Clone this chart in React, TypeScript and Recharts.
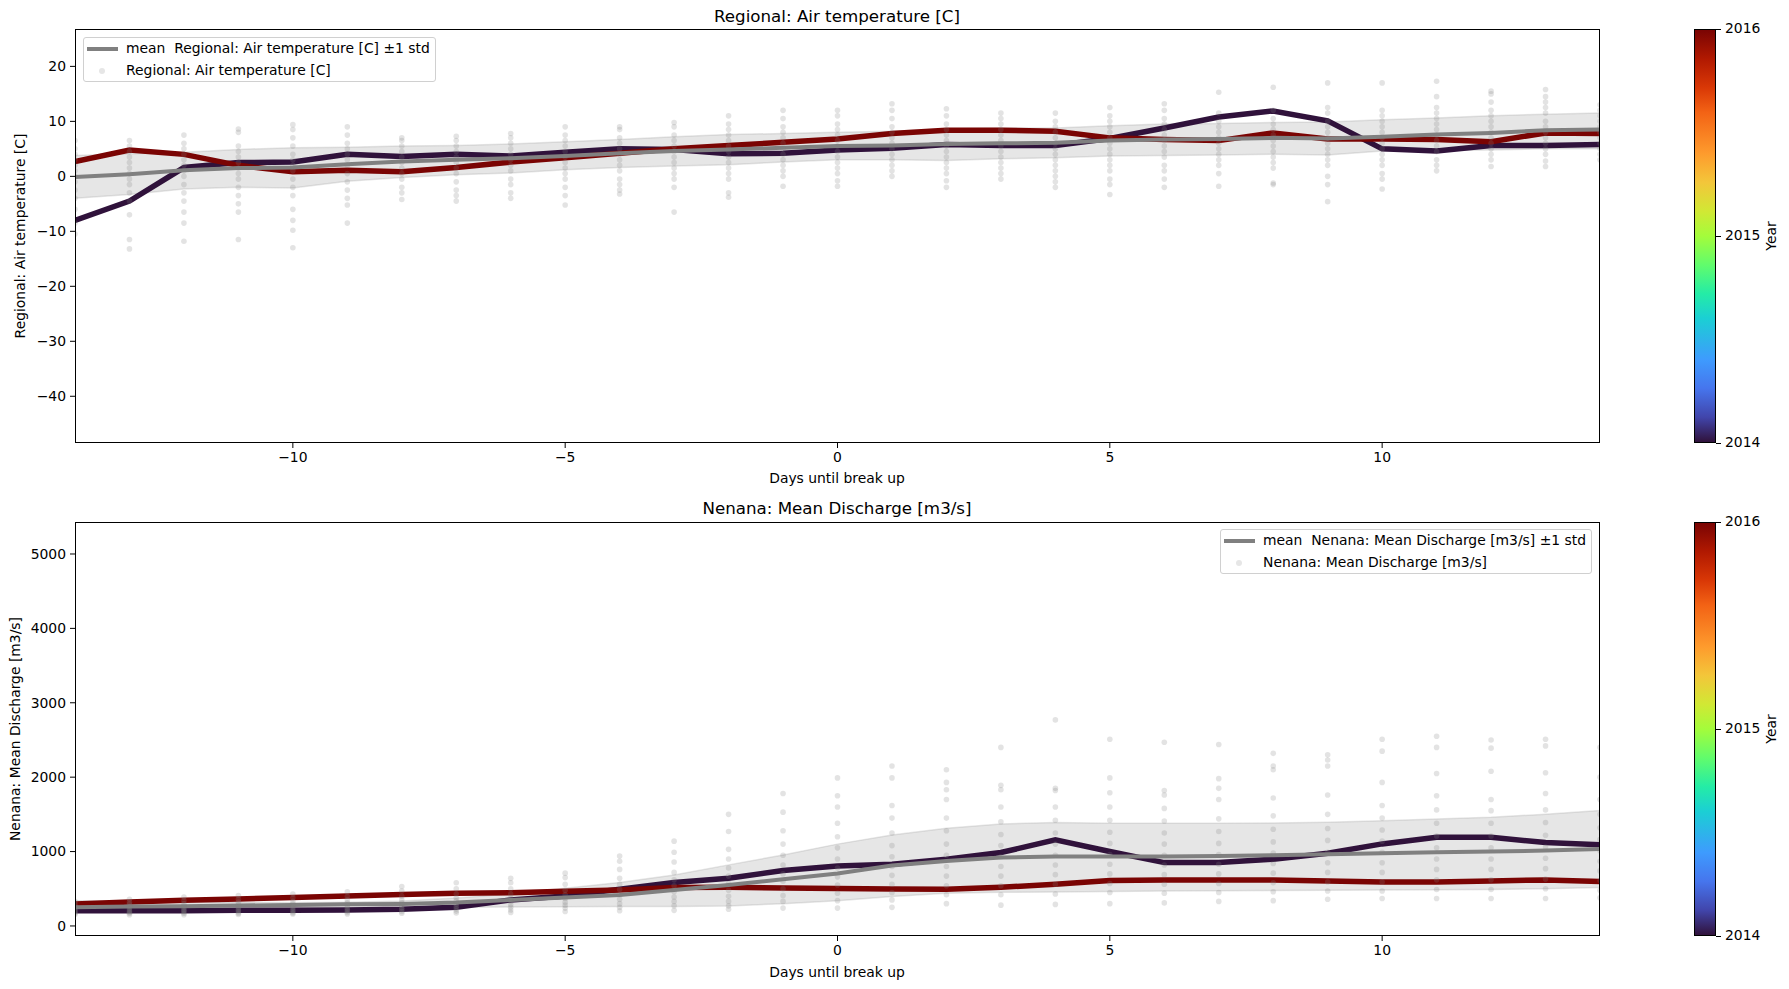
import React from "react";
import { ComposedChart, Line, Area, Scatter, XAxis, YAxis } from "recharts";

// days relative to break up
const days = [-14, -13, -12, -11, -10, -9, -8, -7, -6, -5, -4, -3, -2, -1, 0, 1, 2, 3, 4, 5, 6, 7, 8, 9, 10, 11, 12, 13, 14];

// Regional: Air temperature [C]
const tempMean = [-0.1, 0.4, 1.1, 1.5, 1.6, 2.2, 2.7, 3.0, 3.3, 3.7, 4.2, 4.6, 4.9, 5.2, 5.5, 5.6, 5.9, 6.0, 6.1, 6.5, 6.7, 6.8, 7.0, 6.9, 7.2, 7.6, 7.9, 8.4, 8.5];
const tempLow = [-4.0, -3.3, -2.3, -2.0, -2.1, -0.9, -0.2, 0.3, 0.6, 1.2, 1.6, 1.9, 2.1, 2.6, 3.0, 3.0, 2.9, 3.2, 3.4, 3.7, 3.8, 3.9, 4.0, 3.9, 4.6, 4.7, 4.8, 5.0, 5.0];
const tempHigh = [3.8, 4.1, 4.4, 4.9, 5.2, 5.3, 5.5, 5.6, 5.9, 6.3, 6.7, 7.2, 7.6, 7.8, 8.0, 8.2, 8.6, 8.8, 8.8, 9.2, 9.5, 9.6, 9.8, 9.9, 10.3, 10.6, 11.0, 11.3, 11.5];
const temp2014 = [-8.0, -4.5, 1.6, 2.5, 2.6, 4.0, 3.6, 4.0, 3.7, 4.4, 5.0, 4.9, 4.1, 4.2, 4.8, 5.1, 5.8, 5.6, 5.6, 6.9, 8.8, 10.8, 11.9, 10.1, 5.0, 4.6, 5.6, 5.6, 5.8];
const temp2016 = [2.7, 4.8, 4.0, 2.0, 0.85, 1.1, 0.85, 1.6, 2.6, 3.4, 4.2, 5.0, 5.6, 6.2, 6.8, 7.8, 8.4, 8.4, 8.2, 7.0, 6.7, 6.5, 7.9, 6.8, 6.8, 6.7, 6.3, 7.9, 7.8];
const tempDots = [
  [6.5, 5.0, 4.0, 3.0, 2.0, 1.0, 0.0, -1.0, -2.5, -4.0, -6.0, -8.5, -10.5],
  [6.5, 5.5, 4.5, 3.5, 2.5, 1.5, 0.5, -0.5, -1.5, -3.0, -4.5, -7.0, -11.5, -13.2],
  [7.5, 6.0, 5.0, 4.0, 3.0, 2.0, 1.0, 0.0, -1.5, -3.0, -4.5, -6.5, -8.5, -11.8],
  [8.6, 8.0, 5.5, 4.5, 3.5, 2.5, 1.5, 0.5, -0.5, -2.0, -3.5, -5.0, -6.5, -11.5],
  [9.4, 8.5, 7.0, 5.5, 4.0, 3.0, 2.0, 1.0, -0.5, -2.0, -3.5, -6.0, -8.0, -9.8, -13.0],
  [9.0, 7.5, 6.0, 5.0, 4.0, 3.0, 2.0, 0.5, -1.0, -2.5, -4.0, -5.2, -8.5],
  [7.0, 6.5, 5.5, 4.5, 3.5, 2.5, 1.5, 0.5, -0.5, -2.0, -3.0, -4.2],
  [7.3, 6.5, 5.5, 4.5, 3.5, 2.5, 1.5, 0.5, -1.0, -2.5, -3.5, -4.5],
  [7.8, 7.0, 6.0, 5.0, 4.0, 3.0, 2.0, 1.0, -0.5, -1.5, -3.0, -4.0],
  [9.0, 7.5, 6.5, 5.5, 4.5, 3.5, 2.5, 1.5, 0.5, -0.5, -2.0, -3.5, -5.2],
  [9.0, 8.5, 7.0, 6.0, 5.0, 4.0, 3.0, 2.0, 1.0, -0.5, -1.5, -2.5, -3.2],
  [9.8, 9.0, 7.5, 6.5, 5.5, 4.5, 3.5, 2.5, 1.5, 0.5, -0.5, -2.0, -6.5],
  [11.0, 9.5, 8.5, 7.5, 6.5, 5.5, 4.5, 3.5, 2.5, 1.5, 0.5, -0.5, -3.0, -3.8],
  [12.0, 10.5, 9.0, 8.0, 7.0, 6.0, 5.0, 4.0, 3.0, 2.0, 1.0, 0.0, -1.8],
  [12.0, 11.0, 9.5, 8.5, 7.5, 6.5, 5.5, 4.5, 3.5, 2.5, 1.5, 0.5, -0.8, -1.8],
  [13.2, 12.0, 10.5, 9.0, 8.0, 7.0, 6.0, 5.0, 4.0, 3.0, 2.0, 1.0, 0.0],
  [12.3, 11.0, 9.5, 8.5, 7.5, 6.5, 5.5, 4.5, 3.5, 2.5, 1.5, 0.5, -0.8, -2.0],
  [11.5, 10.5, 9.5, 8.5, 7.5, 6.5, 5.5, 4.5, 3.5, 2.5, 1.5, 0.5, -0.5],
  [11.5, 10.0, 9.0, 8.0, 7.0, 6.0, 5.0, 4.0, 3.0, 2.0, 1.0, 0.0, -1.0, -2.0],
  [12.5, 11.0, 10.0, 9.0, 8.0, 7.0, 6.0, 5.0, 4.0, 3.0, 2.0, 1.0, -0.5, -1.5, -3.3],
  [13.2, 12.0, 10.5, 9.5, 8.5, 7.5, 6.5, 5.5, 4.5, 3.5, 2.0, 1.0, -0.5, -2.0],
  [15.3, 11.5, 10.0, 9.0, 8.0, 7.0, 6.0, 5.0, 4.0, 3.0, 2.0, 0.5, -1.8],
  [16.2, 12.0, 10.5, 9.5, 8.5, 7.5, 6.5, 5.5, 4.5, 3.5, 2.5, 1.5, -1.2, -1.5],
  [17.0, 12.5, 11.5, 10.0, 9.0, 8.0, 7.0, 6.0, 5.0, 4.0, 3.0, 2.0, 0.0, -1.5, -4.6],
  [17.0, 12.0, 11.0, 10.0, 9.0, 8.0, 7.0, 6.0, 5.0, 4.0, 3.0, 2.0, 0.5, -0.5, -2.3],
  [17.3, 14.5, 12.5, 11.5, 10.5, 9.5, 8.5, 7.5, 6.5, 5.5, 4.5, 3.0, 2.0, 1.0],
  [15.5, 15.0, 13.5, 12.0, 11.0, 10.0, 9.0, 8.0, 7.0, 6.0, 5.0, 4.0, 3.0, 1.8],
  [15.8, 14.5, 13.5, 12.5, 11.5, 10.0, 9.0, 8.0, 7.0, 6.0, 5.0, 4.0, 2.8, 1.8],
  [13.0, 12.0, 11.0, 10.0, 9.0, 8.0, 7.0, 6.0, 5.0, 4.0, 3.0],
];

// Nenana: Mean Discharge [m3/s]
const flowMean = [251, 260, 266, 274, 283, 291, 296, 314, 350, 381, 417, 484, 552, 628, 705, 812, 874, 919, 933, 933, 933, 942, 951, 964, 978, 991, 1000, 1013, 1036];
const flowLow = [215, 222, 228, 235, 242, 246, 250, 253, 256, 258, 260, 262, 268, 300, 340, 395, 439, 453, 457, 462, 471, 474, 477, 480, 483, 486, 490, 500, 516];
const flowHigh = [340, 335, 325, 318, 313, 320, 335, 377, 430, 507, 583, 686, 821, 955, 1100, 1224, 1314, 1372, 1390, 1381, 1380, 1382, 1385, 1395, 1413, 1439, 1462, 1502, 1552];
const flow2014 = [206, 206, 206, 211, 211, 215, 224, 251, 350, 404, 493, 583, 641, 744, 805, 830, 897, 987, 1157, 1000, 852, 852, 897, 978, 1103, 1193, 1193, 1121, 1090];
const flow2016 = [296, 323, 345, 363, 381, 404, 422, 439, 448, 466, 484, 516, 520, 511, 503, 498, 493, 520, 561, 610, 619, 619, 619, 605, 592, 592, 605, 619, 596];
const flowDots = [
  [330, 290, 260, 240, 220, 200, 185, 170, 155],
  [360, 320, 290, 260, 240, 220, 200, 185, 170, 150],
  [390, 340, 300, 270, 245, 225, 205, 190, 170, 150],
  [410, 360, 320, 285, 255, 230, 210, 190, 170, 155],
  [430, 380, 330, 295, 265, 240, 215, 195, 175, 160],
  [460, 400, 350, 310, 275, 245, 220, 200, 180, 160],
  [530, 470, 400, 350, 310, 275, 245, 220, 195, 170],
  [580, 500, 430, 380, 335, 295, 260, 230, 200, 175],
  [640, 580, 500, 430, 380, 330, 290, 250, 215, 180],
  [710, 650, 560, 480, 420, 370, 320, 280, 240, 195],
  [940, 870, 760, 640, 560, 490, 420, 360, 300, 250, 205],
  [1140, 990, 860, 720, 620, 540, 460, 390, 330, 270, 210],
  [1500, 1270, 1030, 900, 780, 670, 570, 480, 400, 330, 270, 225],
  [1780, 1530, 1280, 1100, 950, 820, 700, 600, 500, 410, 330, 240],
  [1990, 1750, 1600, 1380, 1200, 1050, 900, 780, 660, 550, 440, 340, 240],
  [2150, 1990, 1620, 1450, 1250, 1080, 930, 800, 680, 560, 450, 350, 250],
  [2100, 1930, 1830, 1700, 1450, 1280, 1100, 950, 800, 670, 540, 420, 300],
  [2400, 1890, 1830, 1600, 1400, 1230, 1080, 930, 800, 670, 540, 420, 280],
  [2770, 1850, 1820, 1600, 1420, 1250, 1100, 950, 820, 690, 560, 430, 290],
  [2510, 1990, 1790, 1600, 1420, 1260, 1110, 960, 830, 700, 570, 450, 300],
  [2470, 1820, 1760, 1580, 1410, 1250, 1100, 950, 820, 690, 560, 440, 310],
  [2440, 1980, 1850, 1700, 1440, 1270, 1110, 960, 830, 700, 570, 450, 330],
  [2320, 2150, 2100, 1720, 1480, 1300, 1130, 980, 840, 710, 580, 460, 340],
  [2300, 2230, 2150, 1760, 1500, 1310, 1150, 990, 850, 720, 590, 470, 360],
  [2510, 2350, 1930, 1620, 1450, 1290, 1140, 990, 850, 720, 590, 470, 370],
  [2550, 2400, 2050, 1750, 1560, 1380, 1210, 1050, 900, 760, 620, 490, 370],
  [2500, 2390, 2080, 1700, 1550, 1380, 1210, 1050, 900, 760, 620, 490, 370],
  [2510, 2420, 2060, 1780, 1560, 1390, 1220, 1060, 910, 770, 630, 500, 370],
  [2400, 2000, 1700, 1500, 1320, 1160, 1010, 870, 740, 610, 480, 380],
];

const xTicks = [-10, -5, 0, 5, 10];
const tempTicks = [-40, -30, -20, -10, 0, 10, 20];
const flowTicks = [0, 1000, 2000, 3000, 4000, 5000];
const yearTicks = ["2016", "2015", "2014"];

const FONT = "'DejaVu Sans', sans-serif";
const C2014 = "#30123b";
const C2016 = "#7a0403";
const GRAY = "#808080";
const TURBO =
  "linear-gradient(to top, #30123b 0%, #4145ab 6%, #4675ed 13%, #3e9bfe 20%, #1bcfd4 30%, #24eca6 36%, #61fc6c 43%, #a4fc3b 50%, #d1e834 56%, #f3c63a 63%, #fe9b2d 70%, #f36315 80%, #d93806 86%, #b11901 93%, #7a0403 100%)";

const fmt = (v: number) => String(v).replace("-", "\u2212");

const rowsOf = (mean: number[], low: number[], high: number[], a: number[], b: number[]) =>
  days.map((d, i) => ({ day: d, mean: mean[i], band: [low[i], high[i]], y2014: a[i], y2016: b[i] }));

const dotsOf = (s: number[][]) => days.flatMap((d, i) => s[i].map((v) => ({ day: d, v })));

const Dot = (p: any) => <circle cx={p.cx} cy={p.cy} r={2.8} fill={GRAY} fillOpacity={0.22} />;

const tickStyle = { fontFamily: FONT, fontSize: 13.9, fill: "#000" };

function Panel(props: {
  top: number;
  height: number;
  mTop: number;
  mBottom: number;
  rows: any[];
  dots: any[];
  domain: [number, number];
  ticks: number[];
}) {
  return (
    <div style={{ position: "absolute", left: 0, top: props.top }}>
      <ComposedChart
        width={1789}
        height={props.height}
        data={props.rows}
        margin={{ top: props.mTop, right: 189, bottom: props.mBottom, left: 15 }}
      >
        <XAxis
          dataKey="day"
          type="number"
          domain={[-14, 14]}
          ticks={xTicks}
          allowDataOverflow
          axisLine={false}
          tickSize={5}
          tickMargin={4}
          tickLine={{ stroke: "#000" }}
          tick={tickStyle}
          tickFormatter={fmt}
          height={30}
        />
        <YAxis
          type="number"
          domain={props.domain}
          ticks={props.ticks}
          allowDataOverflow
          axisLine={false}
          tickSize={5}
          tickMargin={4}
          tickLine={{ stroke: "#000" }}
          tick={tickStyle}
          tickFormatter={fmt}
          width={60}
        />
        <Area
          dataKey="band"
          fill={GRAY}
          fillOpacity={0.2}
          stroke={GRAY}
          strokeOpacity={0.2}
          strokeWidth={1.5}
          isAnimationActive={false}
        />
        <Scatter data={props.dots} dataKey="v" shape={Dot} isAnimationActive={false} />
        <Line dataKey="y2014" stroke={C2014} strokeWidth={5.5} dot={false} isAnimationActive={false} />
        <Line dataKey="y2016" stroke={C2016} strokeWidth={5.5} dot={false} isAnimationActive={false} />
        <Line dataKey="mean" stroke={GRAY} strokeWidth={4} dot={false} isAnimationActive={false} />
      </ComposedChart>
    </div>
  );
}

const abs = (x: number, y: number, extra: any = {}): React.CSSProperties => ({
  position: "absolute",
  left: x,
  top: y,
  whiteSpace: "pre",
  fontFamily: FONT,
  fontSize: 13.9,
  color: "#000",
  ...extra,
});

function Legend(props: { x: number; y: number; w: number; label: string }) {
  return (
    <div
      style={{
        position: "absolute",
        left: props.x,
        top: props.y,
        width: props.w,
        height: 45,
        background: "rgba(255,255,255,0.8)",
        border: "1px solid #d0d0d0",
        borderRadius: 3,
        boxSizing: "border-box",
      }}
    >
      <div style={{ position: "absolute", left: 3, top: 9, width: 31, height: 4, background: GRAY }} />
      <div style={abs(42, 2)}>{"mean  " + props.label + " \u00b11 std"}</div>
      <div
        style={{
          position: "absolute",
          left: 15,
          top: 30,
          width: 6,
          height: 6,
          borderRadius: 3,
          background: "rgba(128,128,128,0.2)",
        }}
      />
      <div style={abs(42, 24)}>{props.label}</div>
    </div>
  );
}

function ColorBar(props: { top: number }) {
  const h = 414;
  return (
    <>
      <div
        style={{
          position: "absolute",
          left: 1694,
          top: props.top,
          width: 22,
          height: h,
          background: TURBO,
          border: "1px solid #000",
          boxSizing: "border-box",
        }}
      />
      {yearTicks.map((t, i) => (
        <React.Fragment key={t}>
          <div style={{ position: "absolute", left: 1716, top: props.top + (i * h) / 2, width: 5, height: 1, background: "#000" }} />
          <div style={abs(1725, props.top + (i * h) / 2 - 9)}>{t}</div>
        </React.Fragment>
      ))}
      <div style={abs(1771, props.top + h / 2, { transform: "translate(-50%,-50%) rotate(-90deg)" })}>Year</div>
    </>
  );
}

function Frame(props: { top: number }) {
  return (
    <div
      style={{
        position: "absolute",
        left: 75,
        top: props.top,
        width: 1525,
        height: 414,
        border: "1px solid #000",
        boxSizing: "border-box",
        pointerEvents: "none",
      }}
    />
  );
}

export default function App() {
  const tempRows = rowsOf(tempMean, tempLow, tempHigh, temp2014, temp2016);
  const flowRows = rowsOf(flowMean, flowLow, flowHigh, flow2014, flow2016);
  return (
    <div style={{ position: "fixed", left: 0, top: 0, width: 1789, height: 989, background: "#fff", overflow: "hidden" }}>
      <Panel top={0} height={490} mTop={29} mBottom={17} rows={tempRows} dots={dotsOf(tempDots)} domain={[-48.5, 26.8]} ticks={tempTicks} />
      <Panel top={490} height={499} mTop={32} mBottom={23} rows={flowRows} dots={dotsOf(flowDots)} domain={[-135, 5430]} ticks={flowTicks} />
      <Frame top={29} />
      <Frame top={522} />

      <div style={abs(837, 16, { fontSize: 16.7, transform: "translate(-50%,-50%)" })}>Regional: Air temperature [C]</div>
      <div style={abs(837, 508, { fontSize: 16.7, transform: "translate(-50%,-50%)" })}>Nenana: Mean Discharge [m3/s]</div>
      <div style={abs(837, 478, { transform: "translate(-50%,-50%)" })}>Days until break up</div>
      <div style={abs(837, 972, { transform: "translate(-50%,-50%)" })}>Days until break up</div>
      <div style={abs(20, 236, { transform: "translate(-50%,-50%) rotate(-90deg)" })}>Regional: Air temperature [C]</div>
      <div style={abs(15, 729, { transform: "translate(-50%,-50%) rotate(-90deg)" })}>Nenana: Mean Discharge [m3/s]</div>

      <Legend x={83} y={37} w={353} label="Regional: Air temperature [C]" />
      <Legend x={1220} y={529} w={372} label="Nenana: Mean Discharge [m3/s]" />

      <ColorBar top={29} />
      <ColorBar top={522} />
    </div>
  );
}
